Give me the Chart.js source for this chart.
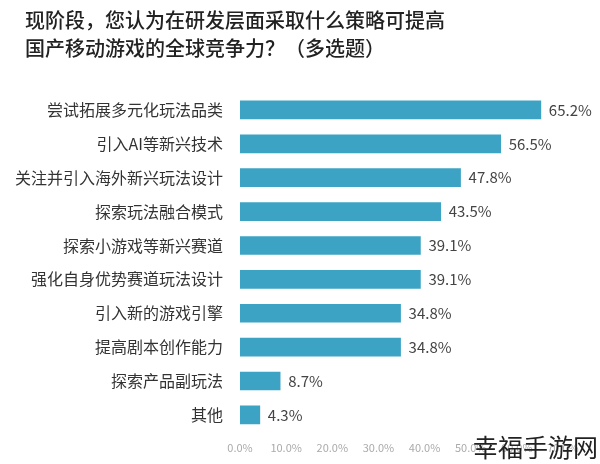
<!DOCTYPE html>
<html>
<head>
<meta charset="utf-8">
<script src="https://cdn.jsdelivr.net/npm/chart.js@4.4.1/dist/chart.umd.min.js"></script>
<style>
  html, body { margin: 0; padding: 0; background: #fff; }
  #wrap { position: relative; width: 600px; height: 464px; overflow: hidden; }
  #title { position: absolute; left: 25px; top: 6px; font-family: "Noto Sans CJK SC", sans-serif; font-size: 20px; line-height: 28px; color: #222; font-weight: 500; }
  #mark { position: absolute; right: 2px; top: 428px; font-family: "Noto Sans CJK SC", sans-serif; font-size: 25px; color: #222; }
  canvas { position: absolute; left: 0; top: 0; }
</style>
</head>
<body>
<div id="wrap">
  <canvas id="c" width="600" height="464"></canvas>
  <div id="title">现阶段，您认为在研发层面采取什么策略可提高<br>国产移动游戏的全球竞争力？（多选题）</div>
  <div id="mark">幸福手游网</div>
</div>
<script>
const categories = ["尝试拓展多元化玩法品类", "引入AI等新兴技术", "关注并引入海外新兴玩法设计", "探索玩法融合模式", "探索小游戏等新兴赛道", "强化自身优势赛道玩法设计", "引入新的游戏引擎", "提高剧本创作能力", "探索产品副玩法", "其他"];
const values = [65.2, 56.5, 47.8, 43.5, 39.1, 39.1, 34.8, 34.8, 8.7, 4.3];
const xTicks = [0, 10, 20, 30, 40, 50, 60, 70];

const valueLabels = {
  id: 'valueLabels',
  afterDatasetsDraw(chart) {
    const ctx = chart.ctx;
    const meta = chart.getDatasetMeta(0);
    ctx.save();
    ctx.font = '15px "Noto Sans CJK SC", sans-serif';
    ctx.fillStyle = '#444';
    ctx.textAlign = 'left';
    ctx.textBaseline = 'middle';
    meta.data.forEach((bar, i) => {
      ctx.fillText(values[i].toFixed(1) + '%', bar.x + 8, bar.y);
    });
    ctx.restore();
  }
};

new Chart(document.getElementById('c'), {
  type: 'bar',
  data: {
    labels: categories,
    datasets: [{
      data: values,
      backgroundColor: '#3ca3c4',
      barThickness: 18
    }]
  },
  options: {
    indexAxis: 'y',
    responsive: false,
    animation: false,
    layout: { padding: { top: 93, bottom: 1, left: 0, right: 37 } },
    plugins: { legend: { display: false }, tooltip: { enabled: false } },
    scales: {
      y: {
        grid: { display: false, drawTicks: false },
        border: { display: false },
        ticks: { color: '#333', font: { family: '"Noto Sans CJK SC", sans-serif', size: 16 }, padding: 17 },
        afterFit(scale) { scale.width = 240; }
      },
      x: {
        min: 0, max: 70,
        afterBuildTicks(scale) { scale.ticks = xTicks.map(v => ({ value: v })); },
        grid: { display: false, drawTicks: false },
        border: { display: false },
        ticks: { color: '#aaa', font: { family: '"Noto Sans CJK SC", sans-serif', size: 11 }, padding: 9,
          callback: v => Number(v).toFixed(1) + '%' }
      }
    }
  },
  plugins: [valueLabels]
});
</script>
</body>
</html>
